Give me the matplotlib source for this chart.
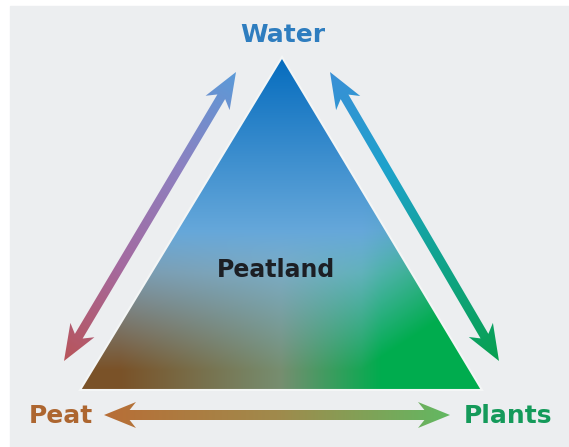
import numpy as np
import matplotlib
matplotlib.use("Agg")
import matplotlib.pyplot as plt
from matplotlib.patches import Polygon, Rectangle
from matplotlib.colors import LinearSegmentedColormap

W, H = 569, 447

# nodes of the diagram (pixel coords, y down)
TRI = [(282, 57), (80, 390), (482, 390)]
LABELS = ["Water", "Peat", "Plants"]
LABEL_POS = [(283, 35), (61, 416), (508, 416)]
LABEL_COLORS = ["#2e7dbf", "#ad6630", "#149a5a"]
CENTER_LABEL = "Peatland"

# double arrows: start, end, colours along the arrow
ARROWS = [
    ((236, 72), (64, 361), ["#5b9ad8", "#8d80c0", "#a46aa0", "#b8545a"]),
    ((330, 72), (499, 361), ["#3a8fd6", "#1ea2cc", "#10a48a", "#08a050"]),
    ((104, 415), (450, 415), ["#b86e36", "#a08a4c", "#62b862"]),
]

fig = plt.figure(figsize=(W / 100, H / 100), dpi=100)
fig.patch.set_facecolor("white")
ax = fig.add_axes([0, 0, 1, 1])
ax.set_xlim(0, W); ax.set_ylim(H, 0)
ax.axis("off")
ax.add_patch(Rectangle((10, 6), W, H, color="#eceef0", zorder=0))

yy, xx = np.mgrid[0:H, 0:W] + 0.5

# --- gradient triangle ---
v = np.clip((yy - 57) / 333, 0, 1)[..., None]
s = np.clip((xx - 80) / 402, 0, 1)[..., None]
top = np.array([5, 108, 190]) / 255
mid = np.array([125, 182, 225]) / 255
up = top + (mid - top) * np.clip(v / 0.65, 0, 1)
brown = np.array([122, 82, 40]) / 255
gray = np.array([118, 142, 112]) / 255
green = np.array([0, 172, 78]) / 255
sl = np.clip((s - 0.1) / 0.4, 0, 1)
sr = np.clip((s - 0.5) / 0.25, 0, 1)
bot = np.where(s < 0.5, brown + (gray - brown) * sl, gray + (green - gray) * sr)
w = np.clip((v - 0.52) / 0.42, 0, 1) ** 1.1
# green rises higher on the right side
w = np.clip(w + np.clip((s - 0.7) / 0.3, 0, 1) * np.clip((v - 0.35) / 0.3, 0, 1) * 0.6, 0, 1)
img = up * (1 - w) + bot * w
tri = Polygon(TRI, closed=True, facecolor="none", edgecolor="#f4f6f6", lw=1.5, zorder=3)
ax.add_patch(tri)
im = ax.imshow(img, extent=(0, W, H, 0), zorder=2, interpolation="bilinear")
im.set_clip_path(tri)


def double_arrow(p0, p1, sw=4.5, hw=14, hl=36):
    p0, p1 = np.array(p0, float), np.array(p1, float)
    d = p1 - p0
    L = np.hypot(*d)
    u = d / L
    n = np.array([-u[1], u[0]])
    pts = [p0, p0 + u * hl + n * hw, p0 + u * hl * 0.8 + n * sw,
           p1 - u * hl * 0.8 + n * sw, p1 - u * hl + n * hw, p1,
           p1 - u * hl - n * hw, p1 - u * hl * 0.8 - n * sw,
           p0 + u * hl * 0.8 - n * sw, p0 + u * hl - n * hw]
    return pts, u, L


for i, (p0, p1, cols) in enumerate(ARROWS):
    if i == 2:
        pts, u, L = double_arrow(p0, p1, sw=5, hw=13, hl=32)
    else:
        pts, u, L = double_arrow(p0, p1)
    t = np.clip(((xx - p0[0]) * u[0] + (yy - p0[1]) * u[1]) / L, 0, 1)
    cmap = LinearSegmentedColormap.from_list(f"a{i}", cols)
    poly = Polygon(pts, closed=True, facecolor="none", edgecolor="none", zorder=4)
    ax.add_patch(poly)
    aim = ax.imshow(cmap(t), extent=(0, W, H, 0), zorder=4, interpolation="bilinear")
    aim.set_clip_path(poly)

for lab, (x, y), c in zip(LABELS, LABEL_POS, LABEL_COLORS):
    ax.text(x, y, lab, color=c, fontsize=18, fontweight="bold",
            ha="center", va="center", family="DejaVu Sans", zorder=5)
ax.text(276, 270, CENTER_LABEL, color="#1c1f24", fontsize=17, fontweight="bold",
        ha="center", va="center", family="DejaVu Sans", zorder=5)

fig.savefig("out.png", dpi=100)
